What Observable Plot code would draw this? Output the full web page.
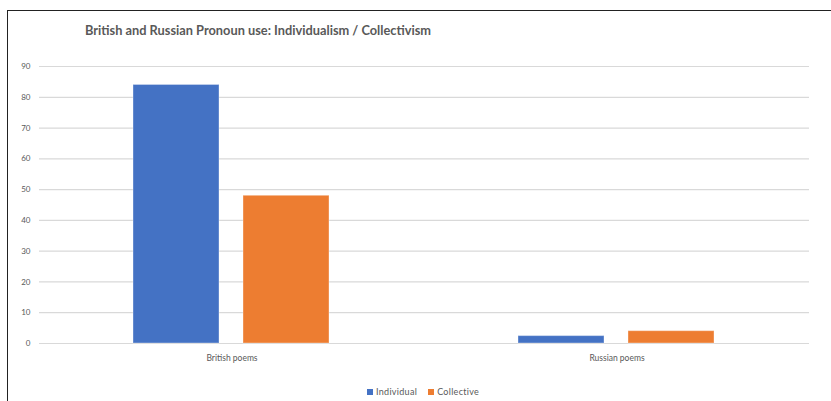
<!DOCTYPE html>
<html>
<head>
<meta charset="utf-8">
<script src="https://cdn.jsdelivr.net/npm/d3@7"></script>
<script src="https://cdn.jsdelivr.net/npm/@observablehq/plot@0.6"></script>
<style>
  html, body { margin: 0; padding: 0; background: #fff; }
  #frame { position: relative; width: 831px; height: 401px; overflow: hidden; font-family: Lato, "Open Sans", sans-serif; }
  #border { position: absolute; left: 7px; top: 10px; width: 830px; height: 400px; border-top: 1.5px solid #222; border-left: 1.5px solid #222; box-sizing: border-box; }
  #title { position: absolute; left: 85px; top: 22px; font-size: 12.8px; font-weight: bold; color: #595959; white-space: nowrap; }
  #chart { position: absolute; left: 0; top: 0; }
  #legend { position: absolute; top: 386px; left: 367px; font-size: 9px; letter-spacing: 0.3px; color: #595959; display: flex; gap: 11px; white-space: nowrap; }
  #legend span.item { display: inline-flex; align-items: center; gap: 3px; }
  #legend i { display: inline-block; width: 6px; height: 6px; }
</style>
</head>
<body>
<div id="frame">
  <div id="border"></div>
  <div id="title">British and Russian Pronoun use: Individualism / Collectivism</div>
  <div id="chart"></div>
  <div id="legend"></div>
</div>
<script>
const categories = ["British poems", "Russian poems"];
const seriesNames = ["Individual", "Collective"];
const individualValues = [84, 2.4];
const collectiveValues = [48, 4];
const yTicks = [0, 10, 20, 30, 40, 50, 60, 70, 80, 90];
const colors = ["#4472C4", "#ED7D31"];

const rows = [];
categories.forEach((c, i) => {
  rows.push({category: c, series: seriesNames[0], value: individualValues[i]});
  rows.push({category: c, series: seriesNames[1], value: collectiveValues[i]});
});

const chart = Plot.plot({
  width: 831,
  height: 370,
  marginLeft: 39,
  marginRight: 22,
  marginTop: 66,
  marginBottom: 27,
  style: {fontFamily: "Lato, 'Open Sans', sans-serif", color: "#595959", background: "transparent"},
  fx: {domain: categories, paddingInner: 0, paddingOuter: 0, label: null},
  x: {domain: seriesNames, paddingInner: 0.218, paddingOuter: 0.857, axis: null},
  y: {domain: [0, 90], label: null},
  color: {domain: seriesNames, range: colors},
  marks: [
    Plot.gridY(yTicks, {stroke: "#d9d9d9", strokeOpacity: 1, strokeWidth: 1.2}),
    Plot.axisY(yTicks, {anchor: "left", tickSize: 0, tickPadding: 9, fontSize: 8, fill: "#595959", label: null}),
    Plot.axisFx({anchor: "bottom", tickSize: 0, tickPadding: 11, fontSize: 8.5, fill: "#595959", label: null}),
    Plot.barY(rows, {fx: "category", x: "series", y: "value", fill: "series", stroke: "#ffffff", strokeOpacity: 0.35, strokeWidth: 1})
  ]
});
document.getElementById("chart").appendChild(chart);

const legend = document.getElementById("legend");
seriesNames.forEach((s, i) => {
  const item = document.createElement("span");
  item.className = "item";
  const sw = document.createElement("i");
  sw.style.background = colors[i];
  item.appendChild(sw);
  item.appendChild(document.createTextNode(s));
  legend.appendChild(item);
});
</script>
</body>
</html>
